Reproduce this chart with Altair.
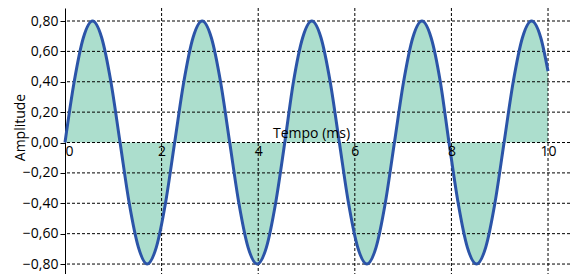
import altair as alt
import pandas as pd

# Time samples (ms) and amplitude (440 Hz tone, 0.8 amplitude)
time_ms = [0.00, 0.19, 0.38, 0.57, 0.76, 0.95, 1.14, 1.33, 1.52, 1.70, 1.89, 2.08,
           2.27, 2.46, 2.65, 2.84, 3.03, 3.22, 3.41, 3.60, 3.79, 3.98, 4.17, 4.36,
           4.55, 4.73, 4.92, 5.11, 5.30, 5.49, 5.68, 5.87, 6.06, 6.25, 6.44, 6.63,
           6.82, 7.01, 7.20, 7.39, 7.58, 7.77, 7.95, 8.14, 8.33, 8.52, 8.71, 8.90,
           9.09, 9.28, 9.47, 9.66, 9.85, 10.00]
amplitude = [0.00, 0.40, 0.69, 0.80, 0.69, 0.40, 0.00, -0.40, -0.69, -0.80, -0.69, -0.40,
             0.00, 0.40, 0.69, 0.80, 0.69, 0.40, 0.00, -0.40, -0.69, -0.80, -0.69, -0.40,
             0.00, 0.40, 0.69, 0.80, 0.69, 0.40, 0.00, -0.40, -0.69, -0.80, -0.69, -0.40,
             0.00, 0.40, 0.69, 0.80, 0.69, 0.40, 0.00, -0.40, -0.69, -0.80, -0.69, -0.40,
             0.00, 0.40, 0.69, 0.80, 0.69, 0.47]

y_ticks = [-0.8, -0.6, -0.4, -0.2, 0.0, 0.2, 0.4, 0.6, 0.8]
x_ticks = [0, 2, 4, 6, 8, 10]
x_grid = [2, 4, 6, 8, 10]

FONT = "Open Sans"

df = pd.DataFrame({"t": time_ms, "a": amplitude})
xs = alt.Scale(domain=[0, 10.455], nice=False, zero=False)
ys = alt.Scale(domain=[-0.8656, 0.8856], nice=False, zero=False)

x_axis = alt.Axis(
    values=x_ticks, grid=False, domain=False, ticks=False,
    labelPadding=2, labelFontSize=14, labelFont=FONT, labelColor="black",
    labelFlush=True, offset=-131.5, zindex=1,
    title="Tempo (ms)", titleFont=FONT, titleFontSize=14, titleFontWeight="normal",
    titleColor="black", titleX=246, titleY=-5, titleBaseline="alphabetic")
y_axis = alt.Axis(
    values=y_ticks, format=".2f", labelExpr="replace(datum.label, '.', ',')",
    grid=False, tickSize=5, tickColor="black", domainColor="black",
    labelPadding=2, labelFontSize=14, labelFont=FONT, labelColor="black",
    title="Amplitude", titleFont=FONT, titleFontSize=14, titleFontWeight="normal",
    titleColor="black", titleX=-41, titleY=119, titleBaseline="alphabetic")

area = alt.Chart(df).mark_area(color="#acdecd", opacity=1, interpolate="monotone").encode(
    x=alt.X("t:Q", scale=xs, axis=x_axis, title="Tempo (ms)"),
    y=alt.Y("a:Q", scale=ys, axis=y_axis, title="Amplitude"),
    y2=alt.datum(0),
)

hgrid = alt.Chart(pd.DataFrame({"v": y_ticks})).mark_rule(
    color="black", strokeDash=[3, 2], strokeWidth=1).encode(
    y=alt.Y("v:Q", scale=ys, axis=y_axis, title="Amplitude"))

vgrid = alt.Chart(pd.DataFrame({"v": x_grid})).mark_rule(
    color="black", strokeDash=[3, 2], strokeWidth=1).encode(
    x=alt.X("v:Q", scale=xs, axis=x_axis, title="Tempo (ms)"))

line = alt.Chart(df).mark_line(color="#2b54a8", strokeWidth=3, interpolate="monotone").encode(
    x=alt.X("t:Q", scale=xs, axis=x_axis, title="Tempo (ms)"),
    y=alt.Y("a:Q", scale=ys, axis=y_axis, title="Amplitude"),
)

chart = alt.layer(area, hgrid, vgrid, line).properties(
    width=505, height=266, autosize="none",
    padding={"left": 57, "top": 0, "right": 0, "bottom": 0},
).configure_view(stroke=None)

chart.save("out.html", embed_options={"renderer": "svg", "actions": False})
